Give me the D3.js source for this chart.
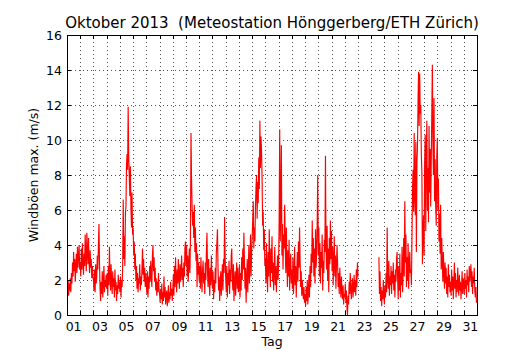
<!DOCTYPE html>
<html>
<head>
<meta charset="utf-8">
<script src="https://cdn.jsdelivr.net/npm/d3@7"></script>
<style>
  body { margin: 0; background: #fff; }
  svg { font-family: "DejaVu Sans", sans-serif; }
</style>
</head>
<body>
<svg width="530" height="350"></svg>
<script>
let width = 530, height = 350;
let margin = {top: 35, right: 53, bottom: 35, left: 67};

// hourly max gusts (m/s), one row per day of October 2013, null = no data
var gusts = [
  [1.6,1.2,2.0,1.1,1.8,1.4,2.1,1.3,2.4,1.8,3.0,2.2,3.6,2.5,3.2,1.9,2.8,3.5,2.4,3.9,2.7,3.4,4.0,2.6],
  [3.0,2.2,3.8,2.6,4.1,3.0,2.3,3.5,2.8,4.6,3.3,2.5,4.7,3.6,2.9,4.4,3.1,2.4,3.7,2.7,3.2,2.1,2.8,2.2],
  [2.0,1.4,2.6,1.3,2.9,1.8,2.2,3.4,2.6,4.0,5.2,3.0,1.5,0.8,1.9,1.2,2.5,1.0,1.8,2.8,1.3,2.0,1.6,2.3],
  [1.5,2.4,1.1,2.8,1.7,3.9,2.2,1.4,2.9,1.9,1.2,2.5,1.6,2.1,1.0,2.6,1.4,1.9,0.8,1.7,1.2,2.3,1.5,1.9],
  [1.3,2.2,1.0,2.0,1.6,2.7,6.6,3.2,4.5,2.8,5.8,6.2,8.6,9.2,8.3,11.9,9.0,8.0,6.8,8.5,6.1,5.0,7.0,4.6],
  [5.0,3.4,4.2,2.6,3.5,2.0,2.8,1.5,2.4,1.3,2.1,1.8,2.9,1.4,2.2,1.7,2.6,3.8,2.3,3.2,1.9,2.7,1.6,2.4],
  [1.8,1.2,2.5,1.0,2.2,1.5,2.8,1.9,3.1,2.2,1.6,3.4,4.0,2.5,3.3,1.9,2.7,1.4,2.1,1.1,1.9,1.3,2.4,1.5],
  [1.2,0.7,1.5,0.9,1.8,0.6,1.3,0.8,2.2,1.0,1.6,0.6,1.1,1.4,0.5,1.0,1.7,0.7,1.3,0.9,1.9,1.1,1.5,0.8],
  [1.4,2.3,1.1,2.8,1.6,3.3,2.0,1.3,2.6,1.8,3.2,2.1,1.5,2.9,1.9,2.4,3.4,2.0,2.7,1.6,3.0,2.2,3.8,4.2],
  [2.8,4.0,2.2,3.4,1.9,2.9,3.8,2.4,4.3,10.4,7.8,6.2,5.1,5.9,4.4,6.3,3.6,5.0,3.1,4.1,1.6,3.5,2.3,3.0],
  [1.9,2.8,1.5,3.3,2.2,1.3,2.6,3.1,1.8,2.4,1.2,3.0,2.0,3.6,4.7,2.5,1.6,3.2,2.1,1.1,2.7,1.7,3.4,2.2],
  [1.5,2.5,0.9,2.0,1.3,2.7,1.8,3.6,4.1,4.9,2.8,1.4,2.2,0.8,1.7,2.5,1.1,2.0,2.9,1.4,3.2,2.4,5.6,3.3],
  [2.1,1.3,2.8,1.0,2.4,1.7,3.1,1.2,2.6,1.9,3.4,3.8,2.0,1.4,2.9,0.8,1.8,2.5,1.1,2.2,3.0,1.5,2.7,1.3],
  [1.6,2.9,1.0,2.4,1.4,3.3,2.0,3.8,2.6,4.7,3.0,1.5,2.7,0.7,1.9,3.2,1.3,2.5,4.0,1.8,2.9,4.6,2.2,3.5],
  [4.4,5.4,6.5,3.8,5.0,4.2,6.2,7.3,8.0,5.5,7.6,6.4,9.0,7.2,11.1,8.4,10.2,9.4,7.8,5.1,5.9,3.7,4.9,2.8],
  [3.2,1.8,4.1,2.5,1.3,3.6,2.2,4.9,2.9,1.6,3.8,2.4,4.5,1.9,3.0,1.4,2.6,3.9,1.7,2.8,1.3,2.3,3.4,2.0],
  [3.0,5.5,10.6,4.2,6.4,9.7,3.4,5.2,2.6,4.6,3.8,6.3,4.1,2.4,5.0,3.2,1.6,3.7,2.2,4.3,1.4,2.9,3.5,1.8],
  [2.6,1.5,3.3,1.2,2.2,3.9,1.7,2.8,1.0,2.4,3.6,1.9,4.2,2.7,5.0,3.1,1.6,2.5,1.1,2.0,1.3,0.9,1.6,0.7],
  [1.2,0.5,1.6,0.8,2.0,0.6,1.3,2.3,1.0,2.8,1.6,3.5,2.4,5.4,3.0,4.4,2.2,3.8,1.8,4.9,2.7,3.6,5.2,8.0],
  [3.4,5.0,2.2,4.1,1.8,3.6,2.7,4.6,1.4,3.1,2.4,4.3,3.6,9.1,4.0,2.6,5.1,2.0,3.8,1.3,4.4,2.9,5.4,3.2],
  [4.8,2.5,3.9,1.7,3.1,4.5,2.2,3.4,1.5,2.8,4.0,3.0,1.6,2.4,1.2,2.7,1.8,1.0,2.2,1.4,0.9,1.7,0.6,1.2],
  [1.0,1.8,0.7,1.4,0.4,0.0,1.1,0.6,1.9,1.2,2.4,1.5,0.9,1.7,2.1,1.0,1.5,2.3,1.3,2.0,1.1,2.6,1.6,3.0],
  [2.2,null,null,null,null,null,null,null,null,null,null,null,null,null,null,null,null,null,null,null,null,null,null,null],
  [null,null,null,null,null,null,null,null,null,null,null,null,null,null,3.3,1.2,2.5,0.8,1.6,0.5,1.4,0.9,2.0,1.1],
  [0.6,1.7,1.0,2.4,1.3,5.0,2.0,1.5,3.1,1.1,2.2,1.7,2.8,1.2,2.5,1.8,3.0,1.4,2.3,1.0,2.6,1.9,3.2,3.6],
  [2.1,0.9,2.8,1.4,3.5,1.0,2.4,1.7,3.9,1.3,2.7,4.4,2.2,6.5,3.0,4.6,1.6,3.3,2.0,4.1,1.5,2.9,3.6,2.4],
  [2.6,1.7,4.4,7.2,8.3,5.9,10.4,6.8,5.7,9.9,3.6,8.7,9.6,12.2,13.9,10.8,13.8,11.5,12.0,9.1,8.2,2.9,4.6,5.7],
  [3.4,8.6,10.3,4.8,9.2,11.1,6.0,8.4,5.3,10.8,7.0,9.5,6.2,8.8,11.6,14.3,9.7,8.0,12.4,6.5,8.9,6.3,5.1,9.0],
  [10.1,6.0,7.8,4.2,5.8,3.5,6.3,2.6,4.4,3.1,1.9,3.6,2.4,1.5,3.0,1.8,2.7,1.2,2.2,1.0,2.9,1.6,2.3,1.3],
  [1.9,1.1,2.6,1.4,2.2,0.9,1.8,3.0,1.5,2.4,1.0,2.0,1.3,2.7,1.7,1.1,2.3,1.4,1.9,0.9,1.6,2.5,1.2,2.1],
  [1.8,1.2,2.4,1.5,2.0,1.0,2.6,1.7,2.2,1.3,2.8,1.9,2.4,2.9,1.6,2.5,1.2,2.2,1.8,2.7,1.4,1.0,1.6,0.7]
];

var dayLabels = ["01","03","05","07","09","11","13","15","17","19","21","23","25","27","29","31"];
var yTicks = [0, 2, 4, 6, 8, 10, 12, 14, 16];

var start = new Date(2013, 9, 1), end = new Date(2013, 10, 1);

// flatten into time / value points
var points = [];
gusts.forEach((row, d) => {
    row.forEach((v, h) => {
        points.push({t: d3.timeHour.offset(d3.timeDay.offset(start, d), h), v: v});
    });
});

let svg = d3.select("svg");

var x = d3.scaleTime()
    .domain([start, end])
    .range([margin.left, width - margin.right]);

var y = d3.scaleLinear()
    .domain([0, 16])
    .range([height - margin.bottom, margin.top]);

let x0 = margin.left, x1 = width - margin.right;
let y0 = height - margin.bottom, y1 = margin.top;

var dayBounds = d3.timeDay.range(start, d3.timeDay.offset(end, 1));

// grid
let grid = svg.append("g")
    .attr("stroke", "#222")
    .attr("stroke-width", 0.8)
    .attr("stroke-dasharray", "1,3");

grid.selectAll(".vg")
    .data(dayBounds.slice(1, -1))
    .enter().append("line")
    .attr("x1", d => Math.round(x(d)) + 0.5)
    .attr("x2", d => Math.round(x(d)) + 0.5)
    .attr("y1", y0)
    .attr("y2", y1);

grid.selectAll(".hg")
    .data(yTicks.slice(1, -1))
    .enter().append("line")
    .attr("y1", d => Math.round(y(d)) + 0.5)
    .attr("y2", d => Math.round(y(d)) + 0.5)
    .attr("x1", x0)
    .attr("x2", x1);

// data line
svg.append("clipPath").attr("id", "clip")
    .append("rect")
    .attr("x", x0).attr("y", y1)
    .attr("width", x1 - x0).attr("height", y0 - y1);

var line = d3.line()
    .defined(d => d.v != null)
    .x(d => x(d.t))
    .y(d => y(d.v));

svg.append("path")
    .datum(points)
    .attr("clip-path", "url(#clip)")
    .attr("fill", "none")
    .attr("stroke", "#ff0000")
    .attr("stroke-width", 1.15)
    .attr("d", line);

// inward ticks on all four sides
let ticks = svg.append("g").attr("stroke", "#000").attr("stroke-width", 1);

ticks.selectAll(".xb")
    .data(dayBounds)
    .enter().append("line")
    .attr("x1", d => Math.round(x(d)) + 0.5)
    .attr("x2", d => Math.round(x(d)) + 0.5)
    .attr("y1", y0).attr("y2", y0 - 4);

ticks.selectAll(".xt")
    .data(dayBounds)
    .enter().append("line")
    .attr("x1", d => Math.round(x(d)) + 0.5)
    .attr("x2", d => Math.round(x(d)) + 0.5)
    .attr("y1", y1).attr("y2", y1 + 4);

ticks.selectAll(".yl")
    .data(yTicks)
    .enter().append("line")
    .attr("y1", d => Math.round(y(d)) + 0.5)
    .attr("y2", d => Math.round(y(d)) + 0.5)
    .attr("x1", x0).attr("x2", x0 + 4);

ticks.selectAll(".yr")
    .data(yTicks)
    .enter().append("line")
    .attr("y1", d => Math.round(y(d)) + 0.5)
    .attr("y2", d => Math.round(y(d)) + 0.5)
    .attr("x1", x1).attr("x2", x1 - 4);

// frame
svg.append("rect")
    .attr("x", x0 + 0.5).attr("y", y1 + 0.5)
    .attr("width", x1 - x0).attr("height", y0 - y1)
    .attr("fill", "none")
    .attr("stroke", "#000")
    .attr("stroke-width", 1);

// tick labels (day labels sit at noon)
svg.append("g")
    .selectAll("text")
    .data(dayLabels)
    .enter().append("text")
    .attr("x", d => x(d3.timeHour.offset(new Date(2013, 9, +d), 12)))
    .attr("y", y0 + 15.5)
    .attr("text-anchor", "middle")
    .attr("font-size", 12.5)
    .text(d => d);

svg.append("g")
    .selectAll("text")
    .data(yTicks)
    .enter().append("text")
    .attr("x", x0 - 5)
    .attr("y", d => y(d) + 4.5)
    .attr("text-anchor", "end")
    .attr("font-size", 12.5)
    .text(d => d);

// labels
svg.append("text")
    .attr("x", (x0 + x1) / 2)
    .attr("y", 28)
    .attr("text-anchor", "middle")
    .attr("font-size", 15)
    .style("white-space", "pre")
    .text("Oktober 2013  (Meteostation Hönggerberg/ETH Zürich)");

svg.append("text")
    .attr("x", (x0 + x1) / 2)
    .attr("y", 346)
    .attr("text-anchor", "middle")
    .attr("font-size", 12.5)
    .text("Tag");

svg.append("text")
    .attr("transform", "translate(38," + ((y0 + y1) / 2) + ") rotate(-90)")
    .attr("text-anchor", "middle")
    .attr("font-size", 12.5)
    .text("Windböen max. (m/s)");
</script>
</body>
</html>
